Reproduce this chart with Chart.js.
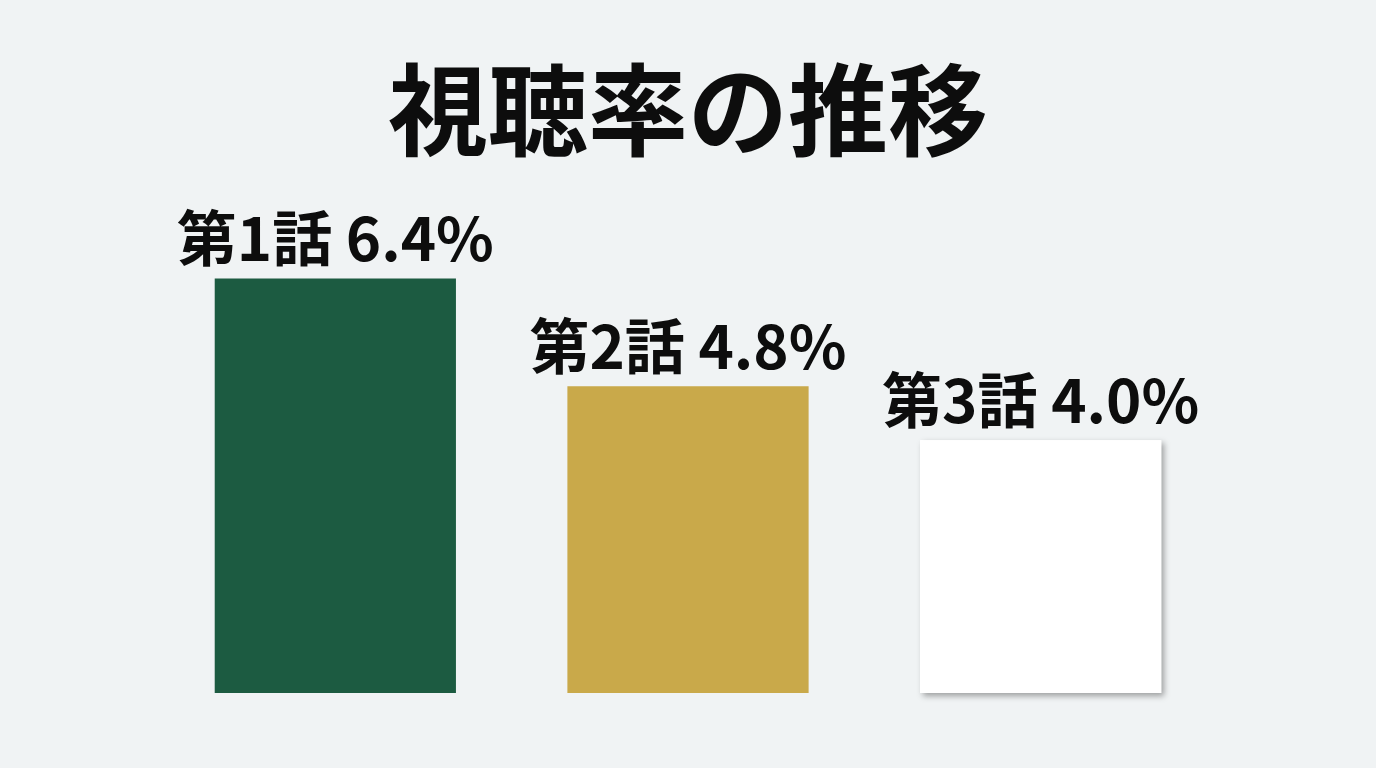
<!DOCTYPE html>
<html>
<head>
<meta charset="utf-8">
<script src="https://cdn.jsdelivr.net/npm/chart.js@4"></script>
<style>
    html, body { margin: 0; padding: 0; background: #f0f3f4; }
    #wrap { width: 1376px; height: 768px; }
</style>
</head>
<body>
<div id="wrap"><canvas id="bars"></canvas></div>
<script>
const episodes = ['第1話', '第2話', '第3話'];
const ratings = [6.4, 4.8, 4.0];
const barColors = ['#1c5b41', '#c9a94a', '#ffffff'];

const font = '"Noto Sans CJK JP", "Noto Sans", sans-serif';

// value labels over bars + soft shadow behind the white bar
const barDecor = {
    id: 'barDecor',
    beforeDatasetsDraw(chart) {
        const ctx = chart.ctx;
        const bar = chart.getDatasetMeta(0).data[2];
        const p = bar.getProps(['x', 'y', 'base', 'width'], true);
        const bottom = Math.min(p.base, chart.chartArea.bottom);
        ctx.save();
        ctx.shadowColor = 'rgba(0, 0, 0, 0.35)';
        ctx.shadowBlur = 6;
        ctx.shadowOffsetX = 3;
        ctx.shadowOffsetY = 3;
        ctx.fillStyle = '#ffffff';
        ctx.fillRect(p.x - p.width / 2, p.y, p.width, bottom - p.y);
        ctx.restore();
    },
    afterDatasetsDraw(chart) {
        const ctx = chart.ctx;
        ctx.save();
        ctx.font = 'bold 60px ' + font;
        ctx.fillStyle = '#0d0d0d';
        ctx.textAlign = 'center';
        ctx.textBaseline = 'alphabetic';
        chart.getDatasetMeta(0).data.forEach((bar, i) => {
            const label = episodes[i] + ' ' + ratings[i].toFixed(1) + '%';
            ctx.fillText(label, bar.x, bar.y - 17);
        });
        ctx.restore();
    }
};

new Chart(document.getElementById('bars'), {
    type: 'bar',
    data: {
        labels: episodes,
        datasets: [{
            data: ratings,
            backgroundColor: barColors,
            borderWidth: 0,
            barPercentage: 0.684,
            categoryPercentage: 1
        }]
    },
    options: {
        responsive: true,
        maintainAspectRatio: false,
        animation: false,
        layout: {
            padding: { left: 159, right: 159, top: 50, bottom: 75 }
        },
        plugins: {
            legend: { display: false },
            tooltip: { enabled: false },
            title: {
                display: true,
                text: '視聴率の推移',
                color: '#0d0d0d',
                font: { family: font, size: 100, weight: 'bold', lineHeight: 1.2 },
                padding: { top: 0, bottom: 68 }
            }
        },
        scales: {
            x: { display: false },
            y: { display: false, min: 0.25, max: 7 }
        }
    },
    plugins: [barDecor]
});
</script>
</body>
</html>
